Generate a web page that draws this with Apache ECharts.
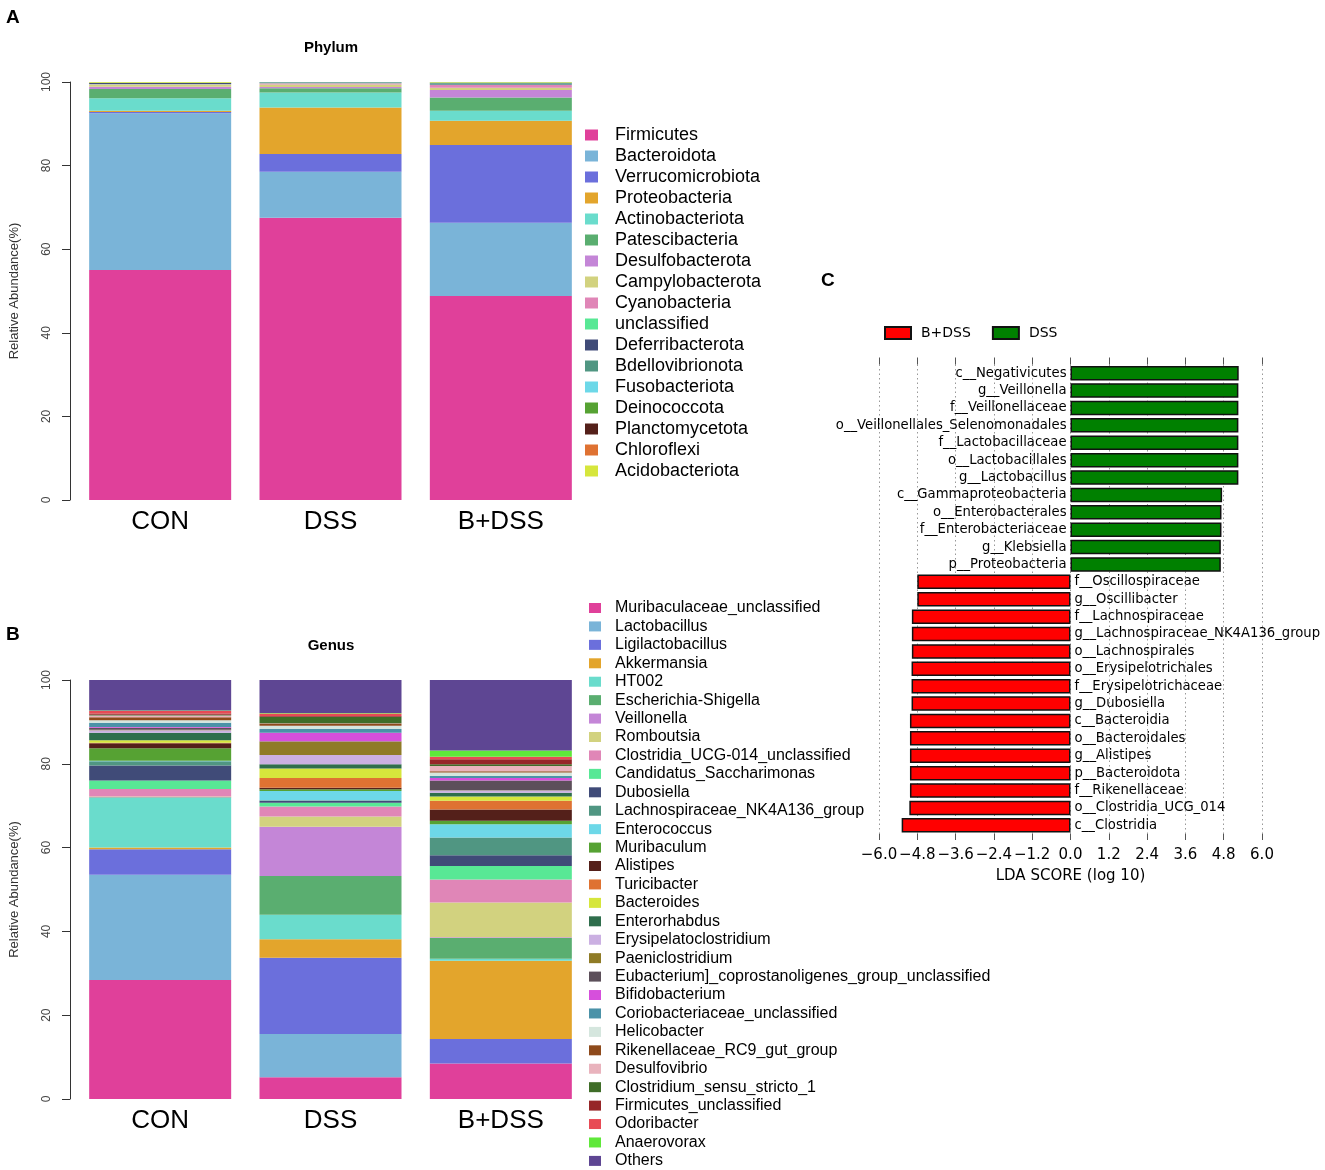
<!DOCTYPE html>
<html><head><meta charset="utf-8">
<script src="https://cdn.jsdelivr.net/npm/echarts@6/dist/echarts.min.js"></script>
<style>html,body{margin:0;padding:0;background:#fff}#c{width:1325px;height:1170px}</style>
</head><body><div id="c"></div>
<script>
// ---------- DATA ----------
const groups = ['CON', 'DSS', 'B+DSS'];

const phylumNames = ['Firmicutes','Bacteroidota','Verrucomicrobiota','Proteobacteria','Actinobacteriota','Patescibacteria','Desulfobacterota','Campylobacterota','Cyanobacteria','unclassified','Deferribacterota','Bdellovibrionota','Fusobacteriota','Deinococcota','Planctomycetota','Chloroflexi','Acidobacteriota'];
const phylumCON  = [55.0, 37.5, 0.3, 0.3, 3.0, 2.2, 0.55, 0.5, 0.1, 0.1, 0.2, 0.1, 0, 0, 0, 0, 0.15];
const phylumDSS  = [67.5, 11.0, 4.3, 11.1, 3.6, 1.0, 0.3, 0.6, 0.3, 0.1, 0.1, 0.1, 0, 0, 0, 0, 0];
const phylumBDSS = [48.8, 17.5, 18.6, 5.8, 2.4, 3.2, 1.8, 0.5, 0.7, 0.1, 0.2, 0.2, 0.05, 0.05, 0, 0, 0.1];

const genusNames = ['Muribaculaceae_unclassified','Lactobacillus','Ligilactobacillus','Akkermansia','HT002','Escherichia-Shigella','Veillonella','Romboutsia','Clostridia_UCG-014_unclassified','Candidatus_Saccharimonas','Dubosiella','Lachnospiraceae_NK4A136_group','Enterococcus','Muribaculum','Alistipes','Turicibacter','Bacteroides','Enterorhabdus','Erysipelatoclostridium','Paeniclostridium','Eubacterium]_coprostanoligenes_group_unclassified','Bifidobacterium','Coriobacteriaceae_unclassified','Helicobacter','Rikenellaceae_RC9_gut_group','Desulfovibrio','Clostridium_sensu_stricto_1','Firmicutes_unclassified','Odoribacter','Anaerovorax','Others'];
const genusCON  = [28.4, 25.1, 6.1, 0.4, 11.9, 0.1, 0.1, 0.1, 1.8, 2.0, 3.6, 1.0, 0.1, 3.0, 1.2, 0.1, 0.6, 1.8, 0.6, 0.1, 0.5, 0.2, 1.0, 0.6, 0.7, 0.4, 0.2, 0.3, 0.6, 0.1, 7.3];
const genusDSS  = [5.2, 10.3, 18.2, 4.4, 5.9, 9.2, 11.8, 2.4, 2.4, 0.9, 0.5, 0.1, 2.2, 0.4, 0.4, 2.3, 2.3, 1.0, 2.2, 3.2, 0.1, 2.0, 0.9, 0.8, 0.5, 0.1, 1.5, 0.2, 0.6, 0.1, 7.9];
const genusBDSS = [8.5, 0.0, 5.8, 18.7, 0.5, 4.9, 0.2, 8.3, 5.5, 3.2, 2.6, 4.2, 3.2, 0.8, 2.7, 2.1, 1.0, 0.9, 0.5, 0.1, 2.3, 0.6, 0.5, 0.8, 0.3, 1.3, 0.4, 1.2, 0.6, 1.5, 16.8];

const ldaTaxa = ['c__Negativicutes','g__Veillonella','f__Veillonellaceae','o__Veillonellales_Selenomonadales','f__Lactobacillaceae','o__Lactobacillales','g__Lactobacillus','c__Gammaproteobacteria','o__Enterobacterales','f__Enterobacteriaceae','g__Klebsiella','p__Proteobacteria','f__Oscillospiraceae','g__Oscillibacter','f__Lachnospiraceae','g__Lachnospiraceae_NK4A136_group','o__Lachnospirales','o__Erysipelotrichales','f__Erysipelotrichaceae','g__Dubosiella','c__Bacteroidia','o__Bacteroidales','g__Alistipes','p__Bacteroidota','f__Rikenellaceae','o__Clostridia_UCG_014','c__Clostridia'];
const ldaScores = [5.27, 5.26, 5.26, 5.26, 5.26, 5.26, 5.26, 4.75, 4.73, 4.73, 4.71, 4.71, -4.80, -4.80, -4.97, -4.97, -4.97, -4.98, -4.98, -4.98, -5.03, -5.03, -5.03, -5.03, -5.03, -5.05, -5.29];
const ldaGroups = ['B+DSS', 'DSS'];

// ---------- STYLE ----------
const palette = ['#e0409a','#7ab4d8','#6b6fdc','#e3a52c','#6adccc','#5aae70','#c486d7','#d2d27f','#e086b7','#58e895','#404b78','#509682','#6dd8e8','#56a233','#54201a','#df7232','#d6e63c','#2f6e4c','#cbb0e2','#8f7b26','#5c4f5a','#d64fdc','#4b92a8','#d5e6de','#8e4a1b','#e9b3bd','#3f6d28','#962628','#e84a55','#5fe83a','#5e4693'];
const SANS = 'Liberation Sans';
const DJV = 'DejaVu Sans';

const series = [];
phylumNames.forEach((n, i) => {
  series.push({ type: 'bar', name: n, stack: 'phylum', xAxisIndex: 0, yAxisIndex: 0, barWidth: 142,
    itemStyle: { color: palette[i] }, data: [phylumCON[i], phylumDSS[i], phylumBDSS[i]] });
});
genusNames.forEach((n, i) => {
  series.push({ type: 'bar', name: n, stack: 'genus', xAxisIndex: 1, yAxisIndex: 1, barWidth: 142,
    itemStyle: { color: palette[i] }, data: [genusCON[i], genusDSS[i], genusBDSS[i]] });
});
series.push({ type: 'bar', name: ldaGroups[0], stack: 'lda', xAxisIndex: 2, yAxisIndex: 2, barWidth: 14.5,
  itemStyle: { color: '#ff0000', borderColor: '#111', borderWidth: 1.5 },
  data: ldaScores.map(v => v < 0 ? v : '-') });
series.push({ type: 'bar', name: ldaGroups[1], stack: 'lda', xAxisIndex: 2, yAxisIndex: 2, barWidth: 14.5,
  itemStyle: { color: '#008000', borderColor: '#111', borderWidth: 1.5 },
  data: ldaScores.map(v => v > 0 ? v : '-') });

function abundanceY(gridIndex) {
  return { type: 'value', gridIndex, min: 0, max: 100, interval: 20, offset: 5,
    axisLine: { show: true, lineStyle: { color: '#333', width: 1 } },
    axisTick: { show: true, length: 8, lineStyle: { color: '#333' } },
    axisLabel: { rotate: 90, margin: 17, fontSize: 12, color: '#444', fontFamily: SANS },
    splitLine: { show: false },
    name: 'Relative Abundance(%)', nameLocation: 'middle', nameGap: 49,
    nameTextStyle: { fontSize: 13, color: '#333', fontFamily: SANS } };
}
function groupX(gridIndex) {
  return { type: 'category', gridIndex, data: groups,
    axisLine: { show: false }, axisTick: { show: false },
    axisLabel: { fontSize: 26, color: '#000', margin: 9, fontFamily: SANS } };
}
const ldaFmt = v => (v < -1e-9 ? '\u2212' : '') + Math.abs(v).toFixed(1);
// LDA grid: zero of the x axis sits at its horizontal middle
const ldaLeft = 879, ldaWidth = 383, zeroShift = -ldaWidth / 2;

const option = {
  backgroundColor: '#fff',
  animation: false,
  grid: [
    { left: 75, top: 82, width: 511, height: 418, outerBoundsMode: 'none' },
    { left: 75, top: 680, width: 511, height: 419, outerBoundsMode: 'none' },
    { left: ldaLeft, top: 364.5, width: ldaWidth, height: 469.5, outerBoundsMode: 'none' }
  ],
  xAxis: [
    groupX(0), groupX(1),
    { type: 'value', gridIndex: 2, min: -6, max: 6, interval: 1.2, position: 'bottom',
      axisLine: { show: false, onZero: false },
      axisTick: { show: true, length: 6, lineStyle: { color: '#555' } },
      axisLabel: { formatter: ldaFmt, fontSize: 15, color: '#000', fontFamily: DJV, margin: 14 },
      splitLine: { show: true, lineStyle: { type: [1.5, 3], color: '#999', width: 1 } },
      name: 'LDA SCORE (log 10)', nameLocation: 'middle', nameGap: 35,
      nameTextStyle: { fontSize: 15, color: '#000', fontFamily: DJV } },
    { type: 'value', gridIndex: 2, min: -6, max: 6, interval: 1.2, position: 'top',
      axisLine: { show: false, onZero: false },
      axisTick: { show: true, length: 7, lineStyle: { color: '#555' } },
      axisLabel: { show: false }, splitLine: { show: false } }
  ],
  yAxis: [
    abundanceY(0), abundanceY(1),
    { type: 'category', gridIndex: 2, data: ldaTaxa, inverse: true, position: 'left', offset: zeroShift,
      axisLine: { show: false, onZero: false }, axisTick: { show: false },
      axisLabel: { interval: 0, margin: 4, fontSize: 13.2, color: '#000', fontFamily: DJV,
        formatter: (v, i) => ldaScores[i] > 0 ? v : '' } },
    { type: 'category', gridIndex: 2, data: ldaTaxa, inverse: true, position: 'right', offset: zeroShift,
      axisLine: { show: false, onZero: false }, axisTick: { show: false },
      axisLabel: { interval: 0, margin: 4, fontSize: 13.2, color: '#000', fontFamily: DJV,
        formatter: (v, i) => ldaScores[i] < 0 ? v : '' } }
  ],
  legend: [
    { data: phylumNames, orient: 'vertical', left: 585, top: 126, height: 400, padding: 0,
      itemWidth: 13, itemHeight: 11, itemGap: 3, icon: 'rect', selectedMode: false,
      textStyle: { fontSize: 18, lineHeight: 18, color: '#000', fontFamily: SANS, padding: [0, 0, 0, 12] } },
    { data: genusNames, orient: 'vertical', left: 589, top: 600, height: 570, padding: 0,
      itemWidth: 12, itemHeight: 10, itemGap: 2.43, icon: 'rect', selectedMode: false,
      textStyle: { fontSize: 16, lineHeight: 16, color: '#000', fontFamily: SANS, padding: [0, 0, 0, 9] } },
    { data: ldaGroups, orient: 'horizontal', left: 884, top: 326, padding: 0,
      itemWidth: 26, itemHeight: 12, itemGap: 21, selectedMode: false, icon: 'rect',
      textStyle: { fontSize: 14, color: '#000', fontFamily: DJV, padding: [0, 0, 0, 5] } }
  ],
  graphic: [
    { type: 'text', left: 6, top: 8, style: { text: 'A', fontSize: 19, fontWeight: 'bold', fontFamily: SANS, fill: '#000' } },
    { type: 'text', left: 6, top: 625, style: { text: 'B', fontSize: 19, fontWeight: 'bold', fontFamily: SANS, fill: '#000' } },
    { type: 'text', left: 821, top: 271, style: { text: 'C', fontSize: 19, fontWeight: 'bold', fontFamily: SANS, fill: '#000' } },
    { type: 'text', x: 331, y: 48, style: { text: 'Phylum', fontSize: 15, fontWeight: 'bold', fontFamily: SANS, fill: '#000', align: 'center', verticalAlign: 'middle' } },
    { type: 'text', x: 331, y: 646, style: { text: 'Genus', fontSize: 15, fontWeight: 'bold', fontFamily: SANS, fill: '#000', align: 'center', verticalAlign: 'middle' } }
  ],
  series
};
const chart = echarts.init(document.getElementById('c'), null, { renderer: 'canvas' });
chart.setOption(option);
</script></body></html>
